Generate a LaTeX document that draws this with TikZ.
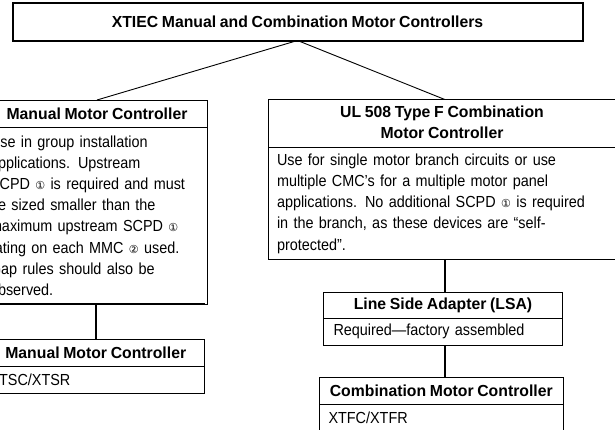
\documentclass[tikz,border=0pt]{standalone}
\usepackage{fontspec}
\setmainfont[FakeStretch=0.9,WordSpace=0.85,BoldFeatures={FakeStretch=0.985}]{Liberation Sans}
\newfontfamily\symfont{DejaVu Sans}
\newcommand{\cn}[1]{{\symfont\fontsize{11}{11}\selectfont #1}}
\begin{document}
\begin{tikzpicture}[x=1pt,y=-1pt,
  every node/.style={inner sep=0pt,outer sep=0pt,font=\fontsize{16}{21.2}\selectfont},
  box/.style={draw=black,line width=0.9pt,anchor=north west,inner xsep=4.5pt},
  head/.style={box,font=\fontsize{16}{21.2}\selectfont\bfseries,align=center},
  body/.style={box,align=left},
  thinlink/.style={line width=0.9pt},
  thicklink/.style={line width=1.8pt}]
\useasboundingbox (0,0) rectangle (615,429);
\clip (0,0) rectangle (615,429);
\fill[white] (0,0) rectangle (615,429);
\node[head,line width=2pt,minimum width=570pt,minimum height=38pt] (top) at (12.5,2.5) {XTIEC Manual and Combination Motor Controllers};
\coordinate (apex) at (top.south);
% left column
\node[head,minimum width=220pt,minimum height=27pt] (mh) at (-13,100) {Manual Motor Controller};
\node[body,minimum width=220pt,minimum height=177pt,inner xsep=3pt,text width=214pt] (mb) at (-13,127) {Use in group installation\\applications. Upstream\\SCPD \cn{①} is required and must\\be sized smaller than the\\maximum upstream SCPD \cn{①}\\rating on each MMC \cn{②} used.\\Gap rules should also be\\observed.};
\draw[line width=0.7pt] ([yshift=0.8pt]mb.south west) -- ([xshift=-2pt,yshift=0.8pt]mb.south east);
\node[head,minimum width=217.5pt,minimum height=27pt] (mh2) at (-13,339.5) {Manual Motor Controller};
\node[body,minimum width=217.5pt,minimum height=26.5pt,inner xsep=2.5pt,text width=212.5pt] (mb2) at (-13,366.5) {XTSC/XTSR};
% right column
\node[head,minimum width=348pt,minimum height=48pt] (fh) at (268,99.5) {UL 508 Type F Combination\\Motor Controller\rule[-3pt]{0pt}{0pt}};
\node[body,minimum width=348pt,minimum height=112pt,inner xsep=9pt,text width=330pt] (fb) at (268,147.5) {Use for single motor branch circuits or use\\multiple CMC’s for a multiple motor panel\\applications. No additional SCPD \cn{①} is required\\in the branch, as these devices are “self-\\protected”.};
\node[head,minimum width=239pt,minimum height=26pt] (lh) at (323.5,292) {Line Side Adapter (LSA)};
\node[body,minimum width=239pt,minimum height=27pt,inner xsep=10pt,text width=219pt] (lb) at (323.5,318) {Required—factory assembled};
\node[head,minimum width=243.5pt,minimum height=27pt] (ch) at (319.5,377.5) {Combination Motor Controller};
\node[body,minimum width=243.5pt,minimum height=27pt,inner xsep=9pt,text width=225.5pt] (cb) at (319.5,404.5) {XTFC/XTFR};
% connectors
\coordinate (fa) at ([xshift=1.8pt]lh.north);
\draw[thinlink] (apex) -- (mh.north);
\draw[thinlink] (apex) -- (fh.north -| fa);
\draw[thicklink] (mb.south -| mh2.north) -- (mh2.north);
\draw[thicklink] (fb.south -| fa) -- (fa);
\draw[thicklink] (lb.south -| fa) -- (ch.north -| fa);
\end{tikzpicture}
\end{document}
